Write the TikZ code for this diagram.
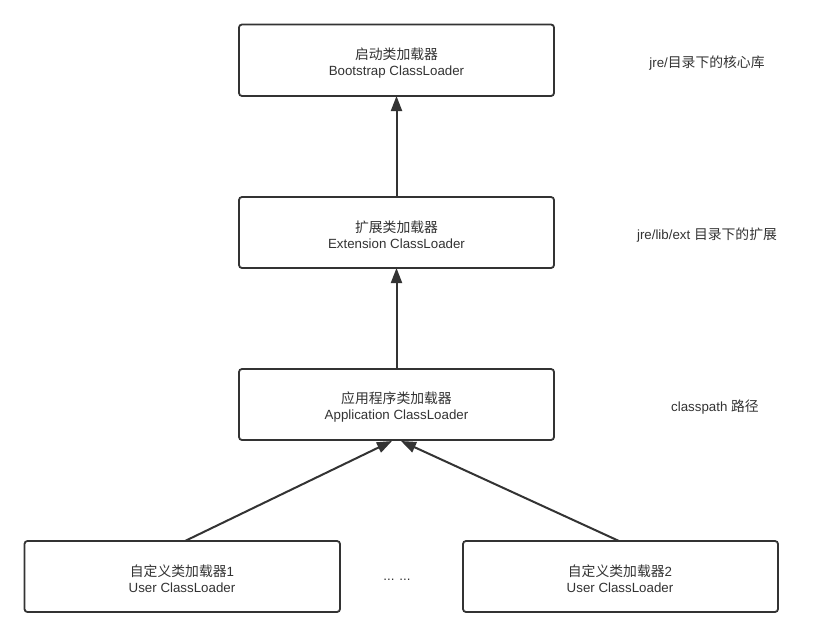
\documentclass[tikz,border=0pt]{standalone}
\usepackage{fontspec}
\setmainfont{Liberation Sans}[Scale=1.04]
\newfontfamily\cjk{Noto Sans CJK SC}[Scale=1.08]
\usetikzlibrary{arrows.meta}
\definecolor{ink}{HTML}{333333}
\begin{document}
\begin{tikzpicture}[x=1pt,y=-1pt,
  loaderbox/.style={draw=ink,line width=1.8pt,rounded corners=3pt,fill=white},
  lbl/.style={text=ink,font=\fontsize{12.8}{16}\selectfont,align=center},
  arr/.style={draw=ink,line width=2pt,-{Triangle[length=15pt,width=11pt]}}]
\useasboundingbox (0,0) rectangle (828,637);
% boxes
\draw[loaderbox] (239,24.5) rectangle (554,96);
\node[lbl] (bs) at (396.5,63) {{\cjk 启动类加载器}\\Bootstrap ClassLoader};
\draw[loaderbox] (239,197) rectangle (554,268);
\node[lbl] (ext) at (396.5,235) {{\cjk 扩展类加载器}\\Extension ClassLoader};
\draw[loaderbox] (239,369) rectangle (554,440);
\node[lbl] (app) at (396.5,407) {{\cjk 应用程序类加载器}\\Application ClassLoader};
\draw[loaderbox] (24.5,541) rectangle (340,612);
\node[lbl] (u1) at (182,579) {{\cjk 自定义类加载器}1\\User ClassLoader};
\draw[loaderbox] (463,541) rectangle (778,612);
\node[lbl] (u2) at (620,579) {{\cjk 自定义类加载器}2\\User ClassLoader};
% coordinates for connectors
\coordinate (bsB) at (396.5,96);
\coordinate (extT) at (396.5,197);
\coordinate (extB) at (396.5,268);
\coordinate (appT) at (396.5,369);
\coordinate (appB1) at (392,441);
\coordinate (appB2) at (401,441);
\coordinate (u1T) at (185,541);
\coordinate (u2T) at (619,541);
% connectors
\draw[arr] (extT) -- (bsB);
\draw[arr] (appT) -- (extB);
\draw[arr] (u1T) -- (appB1);
\draw[arr] (u2T) -- (appB2);
% side labels
\node[lbl] (n1) at (707,63) {jre/{\cjk 目录下的核心库}};
\node[lbl] (n2) at (707,235) {jre/lib/ext {\cjk 目录下的扩展}};
\node[lbl] (n3) at (715,407) {classpath {\cjk 路径}};
\node[lbl] (dots) at (397,580) {... ...};
\end{tikzpicture}
\end{document}
